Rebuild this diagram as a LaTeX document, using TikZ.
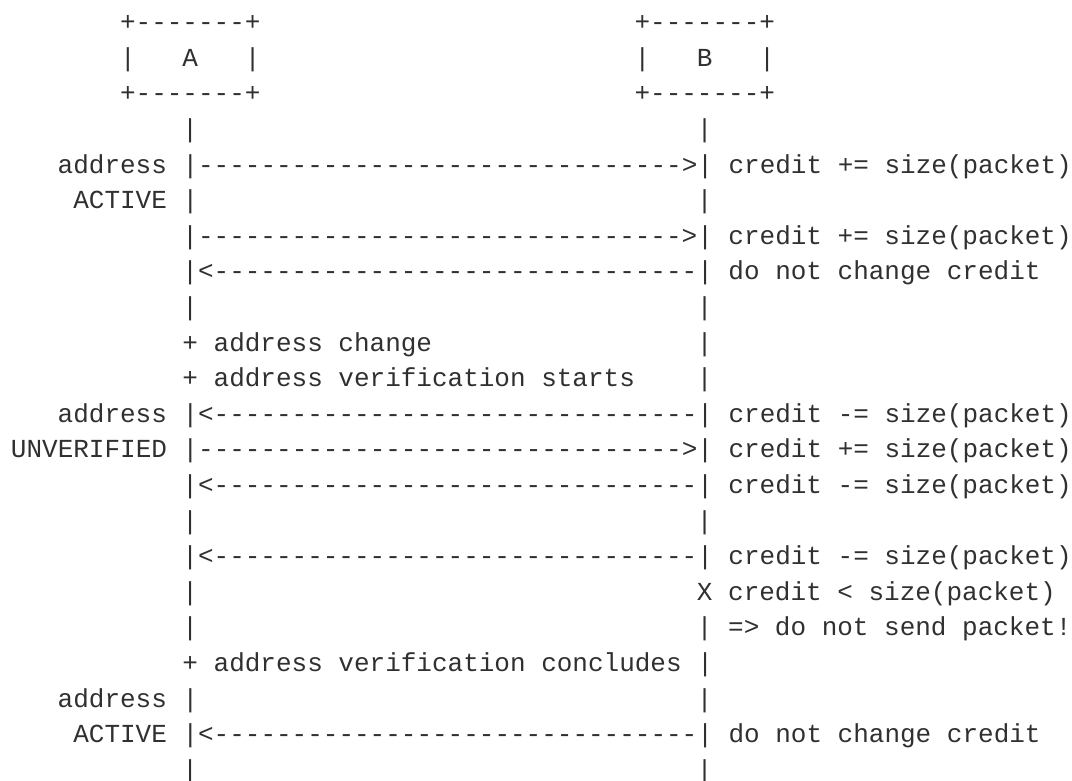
\documentclass[tikz,border=0pt]{standalone}
\usepackage{fontspec}
\usepackage{tikz}
\newfontfamily\asciifont{Liberation Mono}[Ligatures=TeXOff]
\definecolor{ink}{HTML}{303030}
\newcommand\dsh{-------------------------------}
\begin{document}
\begin{tikzpicture}[x=15.59pt,y=-35.6pt,
    ascii/.style={anchor=base west,inner sep=0pt,text=ink,font=\asciifont\fontsize{26}{31}\selectfont}]
    \useasboundingbox (-0.69,-0.86) rectangle (68.07,21.05);
    \node[ascii] (Atop) at (7,0) {+-------+};
    \node[ascii] (Btop) at (40,0) {+-------+};
    \node[ascii] (Amid) at (7,1) {|~~~A~~~|};
    \node[ascii] (Bmid) at (40,1) {|~~~B~~~|};
    \node[ascii] (Abot) at (7,2) {+-------+};
    \node[ascii] (Bbot) at (40,2) {+-------+};
    \node[ascii] (a3) at (11,3) {|};
    \node[ascii] (b3) at (44,3) {|};
    \node[ascii] (r4) at (3,4) {address~|\dsh>|~credit~+=~size(packet)};
    \node[ascii] (a5) at (4,5) {ACTIVE~|};
    \node[ascii] (b5) at (44,5) {|};
    \node[ascii] (r6) at (11,6) {|\dsh>|~credit~+=~size(packet)};
    \node[ascii] (r7) at (11,7) {|<\dsh|~do~not~change~credit};
    \node[ascii] (a8) at (11,8) {|};
    \node[ascii] (b8) at (44,8) {|};
    \node[ascii] (a9) at (11,9) {+~address~change};
    \node[ascii] (b9) at (44,9) {|};
    \node[ascii] (a10) at (11,10) {+~address~verification~starts};
    \node[ascii] (b10) at (44,10) {|};
    \node[ascii] (r11) at (3,11) {address~|<\dsh|~credit~-=~size(packet)};
    \node[ascii] (r12) at (0,12) {UNVERIFIED~|\dsh>|~credit~+=~size(packet)};
    \node[ascii] (r13) at (11,13) {|<\dsh|~credit~-=~size(packet)};
    \node[ascii] (a14) at (11,14) {|};
    \node[ascii] (b14) at (44,14) {|};
    \node[ascii] (r15) at (11,15) {|<\dsh|~credit~-=~size(packet)};
    \node[ascii] (a16) at (11,16) {|};
    \node[ascii] (b16) at (44,16) {X~credit~<~size(packet)};
    \node[ascii] (a17) at (11,17) {|};
    \node[ascii] (b17) at (44,17) {|~=>~do~not~send~packet!};
    \node[ascii] (r18) at (11,18) {+~address~verification~concludes~|};
    \node[ascii] (a19) at (3,19) {address~|};
    \node[ascii] (b19) at (44,19) {|};
    \node[ascii] (r20) at (4,20) {ACTIVE~|<\dsh|~do~not~change~credit};
    \node[ascii] (a21) at (11,21) {|};
    \node[ascii] (b21) at (44,21) {|};
\end{tikzpicture}
\end{document}
